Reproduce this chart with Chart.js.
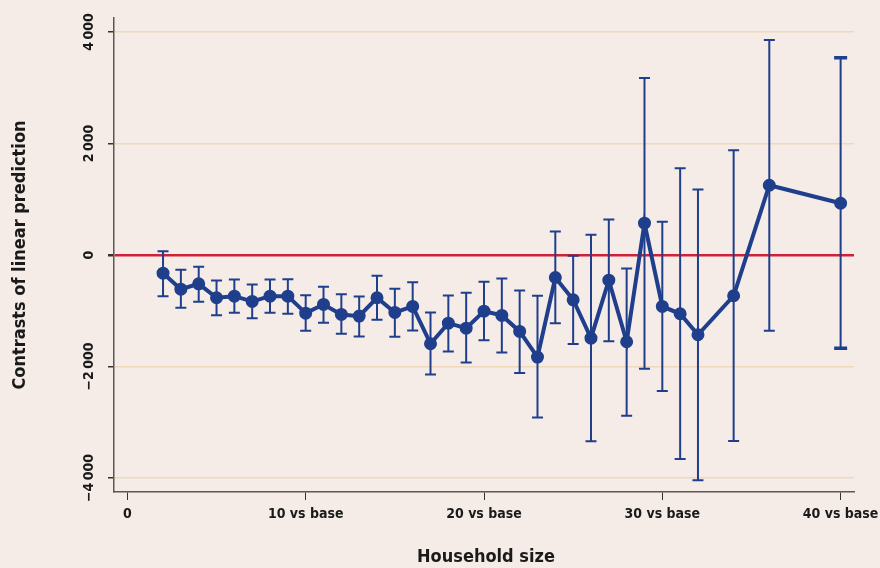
<!DOCTYPE html>
<html lang="en">
<head>
  <meta charset="UTF-8">
  <title>Contrasts of linear prediction by household size</title>
  <script src="https://cdn.jsdelivr.net/npm/chart.js"></script>
  <style>
    body { margin: 0; padding: 0; background: #f5ece7; }
    #wrap { width: 880px; height: 568px; }
  </style>
</head>
<body>
  <div id="wrap"><canvas id="chart" width="880" height="568"></canvas></div>

  <script>
    // household size (x) and contrast estimates with 95% CI
    const sizes = [2, 3, 4, 5, 6, 7, 8, 9, 10, 11, 12, 13, 14, 15, 16, 17, 18, 19, 20, 21, 22, 23,
                   24, 25, 26, 27, 28, 29, 30, 31, 32, 34, 36, 40];
    const estimate = [-326, -613, -517, -767, -738, -833, -738, -738, -1043, -887, -1066,
                      -1096, -767, -1030, -923, -1591, -1222, -1312, -1007, -1084, -1371, -1831,
                      -403, -803, -1491, -452, -1556, 570, -923, -1054, -1430,
                      -731, 1251, 928];
    const lower = [-738, -946, -839, -1079, -1036, -1133, -1036, -1054, -1358, -1215, -1412,
                   -1461, -1161, -1466, -1353, -2142, -1729, -1927, -1527, -1747, -2118, -2912,
                   -1222, -1595, -3342, -1545, -2882, -2040, -2441, -3659, -4041,
                   -3337, -1358, -1670];
    const upper = [68, -265, -212, -457, -439, -529, -439, -433, -720, -570, -702,
                   -744, -373, -606, -487, -1030, -726, -678, -481, -421, -636, -731,
                   421, -12, 362, 636, -242, 3176, 595, 1556, 1174,
                   1878, 3857, 3539];

    const xTicks = [0, 10, 20, 30, 40];
    const xTickLabels = ['0', '10 vs base', '20 vs base', '30 vs base', '40 vs base'];
    const yTicks = [-4000, -2000, 0, 2000, 4000];
    const yTickLabels = ['\u22124\u2009000', '\u22122\u2009000', '0', '2\u2009000', '4\u2009000'];

    const BLUE = '#1f3e8c';
    const INK = '#1a1a1a';
    const FONT = '"DejaVu Sans Condensed", "Liberation Sans Narrow", "DejaVu Sans", sans-serif';

    const errorBars = {
      id: 'errorBars',
      beforeDatasetsDraw(chart) {
        const { ctx, scales: { x, y } } = chart;
        ctx.save();
        ctx.strokeStyle = BLUE;
        sizes.forEach((s, i) => {
          const px = x.getPixelForValue(s);
          const top = y.getPixelForValue(upper[i]);
          const bot = y.getPixelForValue(lower[i]);
          const last = i === sizes.length - 1;
          ctx.lineWidth = 2;
          ctx.beginPath();
          ctx.moveTo(px, top); ctx.lineTo(px, bot);
          ctx.stroke();
          ctx.lineWidth = last ? 3.5 : 2;
          const cw = last ? 6.5 : 5.5;
          ctx.beginPath();
          ctx.moveTo(px - cw, top); ctx.lineTo(px + cw, top);
          ctx.moveTo(px - cw, bot); ctx.lineTo(px + cw, bot);
          ctx.stroke();
        });
        ctx.restore();
      }
    };

    const labels = {
      id: 'labels',
      afterDraw(chart) {
        const { ctx, scales: { x, y } } = chart;
        ctx.save();
        ctx.fillStyle = INK;
        ctx.textAlign = 'center';
        ctx.textBaseline = 'middle';
        ctx.font = 'bold 14px ' + FONT;
        yTicks.forEach((v, i) => {
          ctx.save();
          ctx.translate(89, y.getPixelForValue(v));
          ctx.rotate(-Math.PI / 2);
          ctx.fillText(yTickLabels[i], 0, 0);
          ctx.restore();
        });
        ctx.font = 'bold 18px ' + FONT;
        ctx.save();
        ctx.translate(20, (y.top + y.bottom) / 2);
        ctx.rotate(-Math.PI / 2);
        ctx.fillText('Contrasts of linear prediction', 0, 0);
        ctx.restore();
        ctx.fillText('Household size', (x.left + x.right) / 2 + 2, 557);
        ctx.restore();
      }
    };

    new Chart(document.getElementById('chart'), {
      type: 'line',
      data: {
        datasets: [{
          data: sizes.map((s, i) => ({ x: s, y: estimate[i] })),
          borderColor: BLUE,
          backgroundColor: BLUE,
          borderWidth: 4,
          pointRadius: 4.5,
          pointHoverRadius: 4.5,
          tension: 0
        }]
      },
      options: {
        responsive: false,
        animation: false,
        layout: { padding: { top: 18, right: 26, left: 0, bottom: 0 } },
        plugins: { legend: { display: false }, tooltip: { enabled: false } },
        scales: {
          x: {
            type: 'linear',
            min: -0.75, max: 40.75,
            afterBuildTicks: s => { s.ticks = xTicks.map(v => ({ value: v })); },
            afterFit: s => { s.height = 76; s.paddingLeft = 0; s.paddingRight = 0; },
            border: { color: '#5e5656', width: 1.5 },
            grid: { drawOnChartArea: false, drawTicks: true, tickLength: 8, tickColor: '#333' },
            ticks: {
              padding: 6,
              color: INK,
              maxRotation: 0,
              font: { family: FONT, size: 14, weight: 'bold' },
              callback: v => xTickLabels[xTicks.indexOf(v)]
            }
          },
          y: {
            min: -4250, max: 4250,
            afterBuildTicks: s => { s.ticks = yTicks.map(v => ({ value: v })); },
            afterFit: s => { s.width = 114; s.paddingTop = 0; s.paddingBottom = 0; },
            border: { color: '#5e5656', width: 1.5 },
            grid: {
              color: c => c.tick && c.tick.value === 0 ? '#d0213a' : '#f0d8ba',
              lineWidth: c => c.tick && c.tick.value === 0 ? 2.5 : 1.5,
              tickLength: 6,
              tickColor: '#333'
            },
            ticks: { display: false }
          }
        }
      },
      plugins: [errorBars, labels]
    });
  </script>
</body>
</html>
